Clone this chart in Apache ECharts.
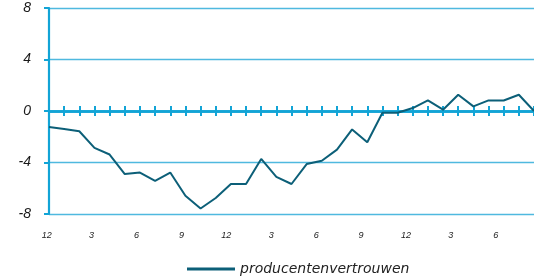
<!DOCTYPE html>
<html>
<head>
<meta charset="utf-8">
<script src="https://cdn.jsdelivr.net/npm/echarts@6/dist/echarts.min.js"></script>
<style>
  html, body { margin: 0; padding: 0; background: #fff; }
  #container { width: 534px; height: 278px; }
</style>
</head>
<body>
<div id="container"></div>
<script type="text/javascript">
// maanden (12 = december), eerste punt dec, laatste aug
var months = ['12','1','2','3','4','5','6','7','8','9','10','11',
              '12','1','2','3','4','5','6','7','8','9','10','11',
              '12','1','2','3','4','5','6','7','8'];
var vertrouwen = [-1.25, -1.4, -1.57, -2.87, -3.38, -4.9, -4.78, -5.42, -4.78, -6.58, -7.57,
                  -6.76, -5.67, -5.67, -3.72, -5.11, -5.67, -4.12, -3.86, -3.0, -1.43,
                  -2.43, -0.14, -0.14, 0.23, 0.82, 0.1, 1.26, 0.36, 0.82, 0.82, 1.26, 0.0];
var yTicks = [-8, -4, 0, 4, 8];
var seriesName = 'producentenvertrouwen';

var axisBlue = '#12a4d6';
var lineColor = '#0c5f78';

var dom = document.getElementById("container");
var myChart = echarts.init(dom);
var option = {
    animation: false,
    grid: [
        {left: 49, right: -2, top: 8, bottom: 64},
        // alleen voor de maandlabels onderaan
        {left: 46.7, right: 8.3, top: 8, bottom: 64}
    ],
    legend: {
        left: 182,
        top: 257,
        itemWidth: 48,
        itemHeight: 3,
        icon: 'rect',
        data: [seriesName],
        textStyle: {
            fontFamily: 'DejaVu Sans',
            fontStyle: 'italic',
            fontSize: 14,
            color: '#222'
        }
    },
    xAxis: [
        {
            type: 'category',
            gridIndex: 0,
            boundaryGap: false,
            data: months,
            axisLine: {onZero: true, onZeroAxisIndex: 0, lineStyle: {color: axisBlue, width: 2.5}},
            axisTick: {show: true, interval: 0, length: 5, lineStyle: {color: axisBlue, width: 2}},
            axisLabel: {show: false},
            splitLine: {show: false}
        },
        {
            type: 'category',
            gridIndex: 0,
            position: 'top',
            boundaryGap: false,
            data: months,
            axisLine: {show: true, onZero: true, onZeroAxisIndex: 0, lineStyle: {color: axisBlue, width: 2.5}},
            axisTick: {show: true, interval: 0, length: 5, lineStyle: {color: axisBlue, width: 2}},
            axisLabel: {show: false},
            splitLine: {show: false}
        },
        {
            type: 'category',
            gridIndex: 1,
            boundaryGap: false,
            data: months,
            axisLine: {show: false, onZero: false},
            axisTick: {show: false},
            axisLabel: {
                interval: 2,
                margin: 17,
                fontFamily: 'Liberation Sans',
                fontStyle: 'italic',
                fontSize: 9,
                color: '#222'
            },
            splitLine: {show: false}
        }
    ],
    yAxis: [
        {
            type: 'value',
            gridIndex: 0,
            min: yTicks[0],
            max: yTicks[yTicks.length - 1],
            interval: 4,
            axisLine: {show: true, lineStyle: {color: axisBlue, width: 2.2}},
            axisTick: {show: true, length: 5, lineStyle: {color: axisBlue, width: 2}},
            axisLabel: {
                margin: 18,
                fontFamily: 'Liberation Sans',
                fontStyle: 'italic',
                fontSize: 14,
                color: '#1a1a1a'
            },
            splitLine: {show: true, lineStyle: {color: '#4fb9df', width: 1.4}}
        },
        {
            type: 'value',
            gridIndex: 1,
            min: -8,
            max: 8,
            show: false
        }
    ],
    series: [
        {
            name: seriesName,
            type: 'line',
            xAxisIndex: 0,
            yAxisIndex: 0,
            symbol: 'none',
            data: vertrouwen,
            itemStyle: {color: lineColor},
            lineStyle: {color: lineColor, width: 2}
        }
    ]
};
if (option && typeof option === "object") {
    myChart.setOption(option, true);
}
</script>
</body>
</html>
